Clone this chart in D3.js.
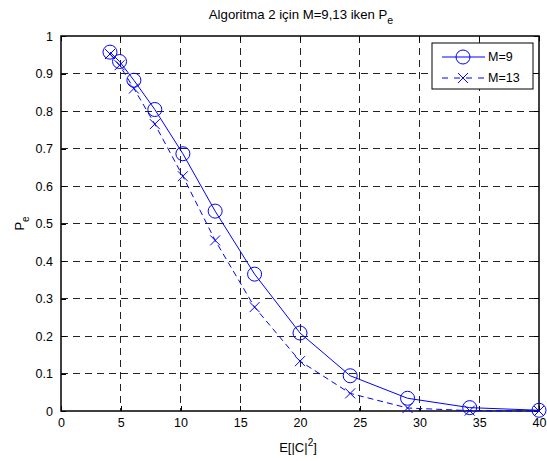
<!DOCTYPE html>
<html>
<head>
<meta charset="utf-8">
<script src="https://cdn.jsdelivr.net/npm/d3@7"></script>
<style>
  body { margin: 0; background: #fff; }
  svg { font-family: "Liberation Sans", Arial, sans-serif; }
  .grid line { stroke: #222; stroke-dasharray: 7,5; stroke-width: 1; shape-rendering: crispEdges; }
</style>
</head>
<body>
<div id="chart"></div>
<script>
'use strict';

// data
var xVals = [4.1, 4.9, 6.1, 7.85, 10.2, 12.9, 16.2, 20, 24.2, 29, 34.2, 40];
var pe9 = [0.957, 0.932, 0.882, 0.804, 0.686, 0.533, 0.365, 0.208, 0.094, 0.034, 0.009, 0.002];
var pe13 = [0.952, 0.922, 0.86, 0.765, 0.626, 0.455, 0.277, 0.133, 0.047, 0.008, 0.001, 0.0];
var xTicks = [0, 5, 10, 15, 20, 25, 30, 35, 40];
var yTicks = [0, 0.1, 0.2, 0.3, 0.4, 0.5, 0.6, 0.7, 0.8, 0.9, 1];
var seriesNames = ['M=9', 'M=13'];

var W = 547, H = 461;
var margin = { top: 36, right: 8, bottom: 50, left: 61 };
var width = W - margin.left - margin.right;
var height = H - margin.top - margin.bottom;

var x = d3.scaleLinear().domain([0, 40]).range([0, width]);
var y = d3.scaleLinear().domain([0, 1]).range([height, 0]);

var svg = d3.select('#chart').append('svg')
    .attr('width', W)
    .attr('height', H);

var g = svg.append('g')
    .attr('transform', 'translate(' + margin.left + ',' + margin.top + ')');

// grid
var grid = g.append('g').attr('class', 'grid');
grid.selectAll('.vx').data(xTicks.slice(1, -1)).enter().append('line')
    .attr('x1', function (d) { return x(d); })
    .attr('x2', function (d) { return x(d); })
    .attr('y1', 0).attr('y2', height);
grid.selectAll('.hy').data(yTicks.slice(1, -1)).enter().append('line')
    .attr('x1', 0).attr('x2', width)
    .attr('y1', function (d) { return y(d); })
    .attr('y2', function (d) { return y(d); });

// axes
var xAxis = d3.axisBottom(x).tickValues(xTicks).tickSize(-5).tickPadding(7)
    .tickFormat(d3.format('d'));
var yAxis = d3.axisLeft(y).tickValues(yTicks).tickSize(-5).tickPadding(8)
    .tickFormat(function (d) { return d === 0 || d === 1 ? d : d3.format('.1f')(d); });

var xg = g.append('g').attr('transform', 'translate(0,' + height + ')').call(xAxis);
var yg = g.append('g').call(yAxis);
[xg, yg].forEach(function (a) {
  a.select('.domain').remove();
  a.selectAll('text').attr('font-size', 12.5).attr('fill', '#000')
    .attr('font-family', '"Liberation Sans", Arial, sans-serif');
  a.selectAll('line').attr('stroke', '#000').attr('shape-rendering', 'crispEdges');
});

// top / right ticks
g.append('g').selectAll('line').data(xTicks).enter().append('line')
    .attr('x1', function (d) { return x(d); }).attr('x2', function (d) { return x(d); })
    .attr('y1', 0).attr('y2', 5).attr('stroke', '#000').attr('shape-rendering', 'crispEdges');
g.append('g').selectAll('line').data(yTicks).enter().append('line')
    .attr('x1', width).attr('x2', width - 5)
    .attr('y1', function (d) { return y(d); }).attr('y2', function (d) { return y(d); })
    .attr('stroke', '#000').attr('shape-rendering', 'crispEdges');

// box
g.append('rect').attr('x', 0).attr('y', 0).attr('width', width).attr('height', height)
    .attr('fill', 'none').attr('stroke', '#000').attr('stroke-width', 1.5);

var blue = '#0000ff';
var line = d3.line()
    .x(function (d) { return x(d[0]); })
    .y(function (d) { return y(d[1]); });

var d9 = xVals.map(function (v, i) { return [v, pe9[i]]; });
var d13 = xVals.map(function (v, i) { return [v, pe13[i]]; });

g.append('path').attr('d', line(d13)).attr('fill', 'none')
    .attr('stroke', blue).attr('stroke-width', 1).attr('stroke-dasharray', '6,4');
g.append('path').attr('d', line(d9)).attr('fill', 'none')
    .attr('stroke', blue).attr('stroke-width', 1);

function drawCross(sel, cx, cy, s) {
  sel.append('path')
    .attr('d', 'M' + (cx - s) + ',' + (cy - s) + 'L' + (cx + s) + ',' + (cy + s) +
               'M' + (cx - s) + ',' + (cy + s) + 'L' + (cx + s) + ',' + (cy - s))
    .attr('stroke', blue).attr('stroke-width', 1).attr('fill', 'none');
}

g.append('g').selectAll('circle').data(d9).enter().append('circle')
    .attr('cx', function (d) { return x(d[0]); })
    .attr('cy', function (d) { return y(d[1]); })
    .attr('r', 7).attr('fill', 'none').attr('stroke', blue).attr('stroke-width', 1);

var crosses = g.append('g');
d13.forEach(function (d) { drawCross(crosses, x(d[0]), y(d[1]), 5); });

// legend
var lg = svg.append('g').attr('transform', 'translate(432,43)');
lg.append('rect').attr('width', 101).attr('height', 46)
    .attr('fill', '#fff').attr('stroke', '#000').attr('stroke-width', 1);
lg.append('line').attr('x1', 10).attr('x2', 53).attr('y1', 14).attr('y2', 14)
    .attr('stroke', blue).attr('stroke-width', 1);
lg.append('circle').attr('cx', 31).attr('cy', 14).attr('r', 7)
    .attr('fill', 'none').attr('stroke', blue);
lg.append('line').attr('x1', 10).attr('x2', 53).attr('y1', 35).attr('y2', 35)
    .attr('stroke', blue).attr('stroke-width', 1).attr('stroke-dasharray', '6,6');
drawCross(lg, 31, 35, 5);
lg.selectAll('text.leg').data(seriesNames).enter().append('text')
    .attr('x', 56).attr('y', function (d, i) { return 18 + i * 21; })
    .attr('font-size', 12.5).text(function (d) { return d; });

// title
var title = svg.append('text').attr('x', 301).attr('y', 18.5)
    .attr('text-anchor', 'middle').attr('font-size', 13.2);
title.append('tspan').text('Algoritma 2 için M=9,13 iken P');
title.append('tspan').attr('dy', 5).attr('font-size', 10.5).text('e');

// x label
var xl = svg.append('text').attr('x', 298).attr('y', 452)
    .attr('text-anchor', 'middle').attr('font-size', 13);
xl.append('tspan').text('E[|C|');
xl.append('tspan').attr('dy', -6).attr('font-size', 10).text('2');
xl.append('tspan').attr('dy', 6).text(']');

// y label
var yl = svg.append('text').attr('transform', 'translate(24,' + (margin.top + height / 2) + ') rotate(-90)')
    .attr('text-anchor', 'middle').attr('font-size', 13);
yl.append('tspan').text('P');
yl.append('tspan').attr('dy', 5).attr('font-size', 10).text('e');
</script>
</body>
</html>
